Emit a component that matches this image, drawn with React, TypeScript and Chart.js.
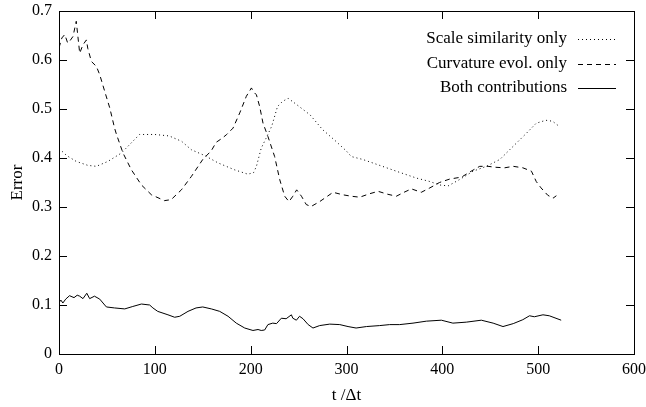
import React, { useEffect, useRef } from "react";
import { Chart, registerables } from "chart.js";

Chart.register(...registerables);

const scaleT = [0, 2.5, 8, 18, 30, 39, 51, 65, 75, 84, 100, 115, 128, 138, 152, 166, 183, 197, 203, 206, 211, 216, 222, 228, 233, 239, 248, 262, 275, 289, 300, 305, 317, 336, 355, 373, 387, 397, 406, 418, 432, 446, 460, 474, 488, 498, 508, 515, 521];
const scaleV = [0.412, 0.415, 0.405, 0.393, 0.385, 0.383, 0.393, 0.41, 0.43, 0.448, 0.448, 0.445, 0.434, 0.417, 0.405, 0.39, 0.376, 0.367, 0.37, 0.383, 0.42, 0.44, 0.465, 0.505, 0.515, 0.522, 0.509, 0.488, 0.458, 0.434, 0.414, 0.403, 0.397, 0.384, 0.371, 0.359, 0.352, 0.345, 0.343, 0.356, 0.373, 0.383, 0.397, 0.424, 0.451, 0.471, 0.477, 0.475, 0.466];

const curvT = [0, 3, 6, 9, 11, 14.6, 18, 21.6, 25, 28.6, 30, 33.8, 39, 42.5, 47.7, 53, 58, 60, 66.8, 75.5, 86, 96.4, 110, 117, 127.7, 138, 150, 159, 164, 170, 175, 181.6, 188.6, 195.5, 200.8, 203, 206, 209.4, 212.9, 218, 225, 230.3, 235.5, 240, 244, 248, 253, 258, 263, 272, 286, 296, 305, 313.8, 324, 333, 343, 352, 360, 367.7, 378, 387, 397, 407.7, 420, 430, 439, 447.7, 456, 465, 474, 484, 493, 498, 503, 510, 515.5, 519];
const curvV = [0.625, 0.645, 0.652, 0.635, 0.638, 0.648, 0.679, 0.614, 0.631, 0.641, 0.624, 0.597, 0.587, 0.57, 0.536, 0.502, 0.461, 0.448, 0.41, 0.376, 0.345, 0.325, 0.313, 0.315, 0.335, 0.362, 0.397, 0.415, 0.432, 0.44, 0.448, 0.461, 0.492, 0.526, 0.543, 0.535, 0.529, 0.505, 0.471, 0.444, 0.403, 0.356, 0.322, 0.311, 0.322, 0.335, 0.322, 0.305, 0.301, 0.311, 0.33, 0.325, 0.322, 0.32, 0.327, 0.332, 0.326, 0.322, 0.33, 0.337, 0.33, 0.339, 0.35, 0.357, 0.361, 0.373, 0.383, 0.383, 0.381, 0.38, 0.383, 0.38, 0.373, 0.352, 0.339, 0.324, 0.318, 0.323];

const bothT = [0, 2, 4, 7, 11, 15.7, 19, 21.6, 25, 29, 32, 37, 42.5, 47.7, 49.5, 58, 68.6, 77, 86, 94.6, 98, 103, 113.7, 120.7, 126, 134.6, 143, 150, 159, 167.7, 176.4, 185, 193.8, 202.4, 207.7, 211, 214.6, 218, 223, 227, 232, 237, 242.5, 244, 247.7, 251, 254.6, 260, 265, 272, 282.5, 293, 301.6, 310, 320.8, 334.6, 345, 355.5, 369.4, 383.3, 399, 411, 425, 440.7, 453, 463.3, 474, 484, 491, 496, 505, 511.6, 524];
const bothV = [0.105, 0.11, 0.104, 0.112, 0.119, 0.115, 0.12, 0.118, 0.113, 0.124, 0.113, 0.118, 0.112, 0.1, 0.096, 0.094, 0.092, 0.097, 0.102, 0.1, 0.094, 0.087, 0.08, 0.075, 0.077, 0.087, 0.094, 0.096, 0.092, 0.087, 0.077, 0.063, 0.053, 0.048, 0.05, 0.048, 0.049, 0.06, 0.063, 0.062, 0.073, 0.072, 0.08, 0.073, 0.069, 0.077, 0.072, 0.06, 0.053, 0.058, 0.061, 0.06, 0.056, 0.053, 0.056, 0.058, 0.06, 0.06, 0.063, 0.067, 0.069, 0.063, 0.065, 0.069, 0.063, 0.056, 0.062, 0.07, 0.078, 0.076, 0.08, 0.078, 0.069];

const seriesLabels = ["Scale similarity only", "Curvature evol. only", "Both contributions"];
const xTicks = [0, 100, 200, 300, 400, 500, 600];
const yTicks = [0, 0.1, 0.2, 0.3, 0.4, 0.5, 0.6, 0.7];

const FONT = "'Liberation Serif', 'DejaVu Serif', serif";

const pts = (t: number[], v: number[]) => t.map((x, i) => ({ x, y: v[i] }));

const zeroPad = (s: any) => {
  s.paddingLeft = 0;
  s.paddingRight = 0;
  s.paddingTop = 0;
  s.paddingBottom = 0;
};

const framePlugin = {
  id: "gnuplotFrame",
  afterDraw(chart: any) {
    const ctx = chart.ctx;
    const { left, right, top, bottom } = chart.chartArea;
    const xs = chart.scales.x;
    const ys = chart.scales.y;
    const TL = 8;
    ctx.save();
    ctx.strokeStyle = "#000";
    ctx.lineWidth = 1;
    ctx.setLineDash([]);
    ctx.beginPath();
    xTicks.forEach((v) => {
      const px = Math.round(xs.getPixelForValue(v)) + 0.5;
      ctx.moveTo(px, bottom);
      ctx.lineTo(px, bottom - TL);
      ctx.moveTo(px, top);
      ctx.lineTo(px, top + TL);
    });
    yTicks.forEach((v) => {
      const py = Math.round(ys.getPixelForValue(v)) + 0.5;
      ctx.moveTo(left, py);
      ctx.lineTo(left + TL, py);
      ctx.moveTo(right, py);
      ctx.lineTo(right - TL, py);
    });
    ctx.stroke();
    ctx.strokeRect(Math.round(left) + 0.5, Math.round(top) + 0.5, Math.round(right - left), Math.round(bottom - top));

    // legend
    ctx.font = "17px " + FONT;
    ctx.fillStyle = "#000";
    ctx.textAlign = "right";
    ctx.textBaseline = "middle";
    const rows = [39, 64, 88];
    chart.data.datasets.forEach((ds: any, i: number) => {
      const y = rows[i];
      ctx.fillText(ds.label, 567, y);
      ctx.beginPath();
      ctx.setLineDash(ds.borderDash || []);
      ctx.moveTo(578, y + 0.5);
      ctx.lineTo(616, y + 0.5);
      ctx.stroke();
    });
    ctx.restore();
  },
};

export default function App() {
  const ref = useRef<HTMLCanvasElement>(null);
  useEffect(() => {
    if (!ref.current) return;
    const chart = new Chart(ref.current, {
      type: "line",
      data: {
        datasets: [
          { label: seriesLabels[0], data: pts(scaleT, scaleV), borderColor: "#000", borderWidth: 1, borderDash: [1, 3], pointRadius: 0, fill: false, tension: 0 },
          { label: seriesLabels[1], data: pts(curvT, curvV), borderColor: "#000", borderWidth: 1, borderDash: [5, 4], pointRadius: 0, fill: false, tension: 0 },
          { label: seriesLabels[2], data: pts(bothT, bothV), borderColor: "#000", borderWidth: 1, pointRadius: 0, fill: false, tension: 0 },
        ],
      },
      options: {
        animation: false,
        responsive: false,
        maintainAspectRatio: false,
        layout: { padding: { left: 0, top: 11, right: 12, bottom: 0 } },
        plugins: { legend: { display: false }, tooltip: { enabled: false } },
        scales: {
          x: {
            type: "linear",
            min: 0,
            max: 600,
            afterFit: (s: any) => { s.height = 53; zeroPad(s); },
            afterBuildTicks: (s: any) => { s.ticks = xTicks.map((v) => ({ value: v })); },
            grid: { display: false, drawTicks: false },
            border: { display: false },
            ticks: { color: "#000", padding: 6, maxRotation: 0, font: { family: FONT, size: 16 } },
            title: { display: true, text: "t /\u0394t", color: "#000", padding: { top: 0, bottom: 1 }, font: { family: FONT, size: 17 } },
          },
          y: {
            type: "linear",
            min: 0,
            max: 0.7,
            afterFit: (s: any) => { s.width = 59; zeroPad(s); },
            afterBuildTicks: (s: any) => { s.ticks = yTicks.map((v) => ({ value: v })); },
            grid: { display: false, drawTicks: false },
            border: { display: false },
            ticks: { color: "#000", padding: 7, font: { family: FONT, size: 16 }, callback: (v: any) => String(Math.round(Number(v) * 10) / 10) },
            title: { display: true, text: "Error", color: "#000", padding: { top: 7, bottom: 0 }, font: { family: FONT, size: 17 } },
          },
        },
      },
      plugins: [framePlugin],
    });
    return () => chart.destroy();
  }, []);
  return (
    <div style={{ position: "absolute", left: 0, top: 0, width: 646, height: 407, background: "#fff" }}>
      <canvas ref={ref} width={646} height={407} style={{ width: 646, height: 407, display: "block" }} />
    </div>
  );
}
